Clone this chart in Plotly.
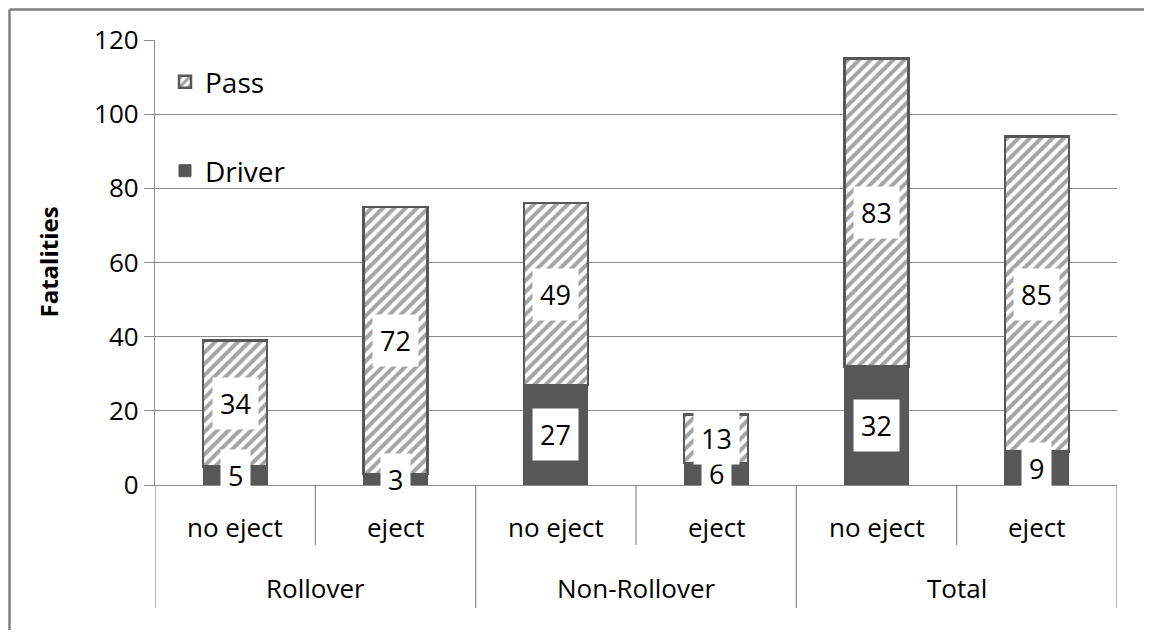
import plotly.graph_objects as go

groups = ["Rollover", "Non-Rollover", "Total"]
subcats = ["no eject", "eject"]
driver = [5, 3, 27, 6, 32, 9]
passenger = [34, 72, 49, 13, 83, 85]
y_ticks = [0, 20, 40, 60, 80, 100, 120]

FONT = "Open Sans"
GRAY = "#575757"
LINE = "#8c8c8c"

OFF = 8  # page body margin
W, H = 1153 - 2 * OFF, 639 - 2 * OFF
ML, MR, MT, MB = 155 - OFF, 36 - OFF, 40 - OFF, 154 - OFF
PW, PH = W - ML - MR, H - MT - MB
Y0 = OFF + H - MB   # screen y of plot bottom
X0 = OFF + ML       # screen x of plot left

n = len(driver)
xs = list(range(n))

def py(sy):
    # screen pixel y -> paper coords
    return (Y0 - sy) / PH

def pxx(sx):
    return (sx - X0) / PW

fig = go.Figure()
fig.add_trace(go.Bar(
    x=xs, y=driver, name="Driver", width=0.4,
    marker=dict(color=GRAY, line=dict(color=GRAY, width=1)),
    legend="legend2", hoverinfo="skip"))
fig.add_trace(go.Bar(
    x=xs, y=passenger, name="Pass", width=0.4,
    marker=dict(color="white", line=dict(color=GRAY, width=2.5),
                pattern=dict(shape="/", fgcolor="#4a4a4a", bgcolor="white", size=8, solidity=0.5)),
    legend="legend", hoverinfo="skip"))

annotations = []
for i in xs:
    for val, base in ((driver[i], 0), (passenger[i], driver[i])):
        annotations.append(dict(
            x=i, y=base + val / 2, xref="x", yref="y", text=str(val), showarrow=False,
            font=dict(family=FONT, size=27, color="black"), bgcolor="white", borderpad=7))
    annotations.append(dict(
        x=i, y=py(527), xref="x", yref="paper", text=subcats[i % 2], showarrow=False,
        yanchor="middle", font=dict(family=FONT, size=26, color="black")))
for g, name in enumerate(groups):
    annotations.append(dict(
        x=2 * g + 0.5, y=py(588), xref="x", yref="paper", text=name, showarrow=False,
        yanchor="middle", font=dict(family=FONT, size=26, color="black")))
annotations.append(dict(
    x=pxx(48), y=0.5, xref="paper", yref="paper", text="<b>Fatalities</b>", showarrow=False,
    textangle=-90, xanchor="center", yanchor="middle",
    font=dict(family=FONT, size=24, color="black")))

shapes = []
for g in range(len(groups)):
    shapes.append(dict(type="line", xref="x", yref="paper", x0=2 * g + 0.5, x1=2 * g + 0.5,
                       y0=0, y1=py(545), line=dict(color=LINE, width=1.2)))
for g in range(len(groups) + 1):
    shapes.append(dict(type="line", xref="x", yref="paper", x0=2 * g - 0.5, x1=2 * g - 0.5,
                       y0=0, y1=py(608), line=dict(color=LINE, width=1.2)))
# outer chart border (top and left edges visible in the reference), kept inside the figure
right_edge, bottom_edge = OFF + W - 1, OFF + H - 1
shapes.append(dict(type="line", xref="paper", yref="paper", x0=pxx(9.5), x1=pxx(right_edge),
                   y0=py(9.5), y1=py(9.5), line=dict(color="#7f7f7f", width=2.5), layer="below"))
shapes.append(dict(type="line", xref="paper", yref="paper", x0=pxx(9.5), x1=pxx(9.5),
                   y0=py(9.5), y1=py(bottom_edge), line=dict(color="#7f7f7f", width=2.5), layer="below"))

fig.update_layout(
    width=W, height=H, margin=dict(l=ML, r=MR, t=MT, b=MB),
    paper_bgcolor="white", plot_bgcolor="white", barmode="stack",
    font=dict(family=FONT, color="black"),
    xaxis=dict(range=[-0.5, n - 0.5], showticklabels=False, showgrid=False, zeroline=False,
               showline=True, linecolor=LINE, linewidth=1.2, ticks=""),
    yaxis=dict(range=[0, 120], tickvals=y_ticks, showgrid=True, gridcolor=LINE, gridwidth=1.2,
               zeroline=False, showline=True, linecolor=LINE, linewidth=1.2,
               ticks="outside", ticklen=10, tickcolor=LINE, tickwidth=1.2,
               tickfont=dict(family=FONT, size=26, color="black")),
    legend=dict(x=pxx(165), y=py(57), xanchor="left", yanchor="top", bgcolor="rgba(0,0,0,0)",
                font=dict(family=FONT, size=28, color="black"), itemwidth=30),
    legend2=dict(x=pxx(165), y=py(146), xanchor="left", yanchor="top", bgcolor="rgba(0,0,0,0)",
                 font=dict(family=FONT, size=28, color="black"), itemwidth=30),
    showlegend=True,
    annotations=annotations, shapes=shapes,
)

fig.write_html("out.html")
